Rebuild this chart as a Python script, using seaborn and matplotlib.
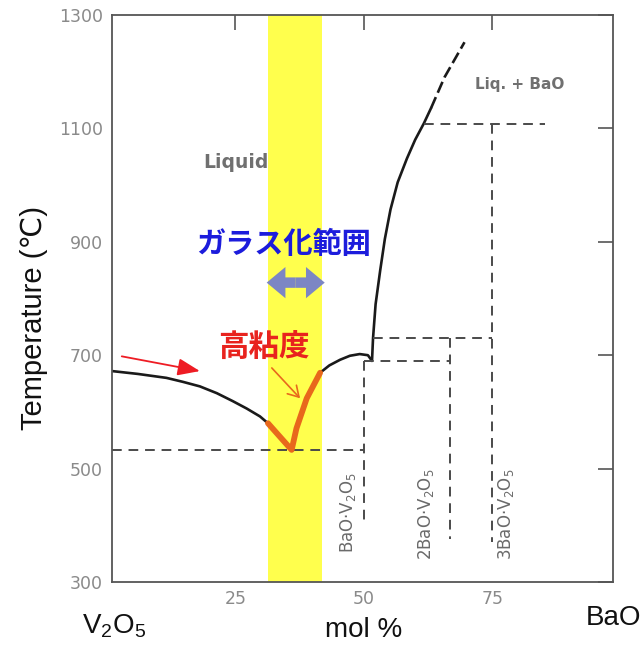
import matplotlib
matplotlib.use("Agg")
import matplotlib.pyplot as plt
import seaborn as sns

# ---------------- data ----------------
# liquidus, V2O5-rich side (black)
liq_left_x = [1.0, 6.0, 11.6, 14.8, 18.1, 21.4, 24.5, 27.2, 29.8, 31.35]
liq_left_t = [672, 667, 660, 653, 645, 633, 619, 606, 592, 580]
# high-viscosity part of the liquidus (orange)
visc_x = [31.35, 33.6, 35.96, 36.9, 38.9, 41.5]
visc_t = [580, 557, 533, 571, 624, 669]
# liquidus around BaO.V2O5 (black)
liq_mid_x = [41.5, 43.3, 45.4, 47.3, 49.2, 50.8, 51.6]
liq_mid_t = [669, 682, 692, 699, 702, 700, 690]
# steep liquidus towards BaO (black, solid)
liq_right_x = [51.6, 51.8, 52.3, 53.2, 54.1, 55.2, 56.6, 58.4, 60.0, 61.7, 63.1]
liq_right_t = [690, 730, 790, 850, 905, 957, 1005, 1047, 1080, 1109, 1136]
# extrapolated liquidus (black, dashed)
liq_ext_x = [63.1, 65.7, 69.6]
liq_ext_t = [1136, 1190, 1252]

# horizontal dashed (invariant) lines
h_t = [532, 690, 730, 1108]
h_x0 = [1.0, 50.0, 51.8, 61.7]
h_x1 = [50.0, 66.7, 75.0, 85.3]
# vertical dashed (compound) lines
v_x = [50.0, 66.7, 75.0]
v_t0 = [690, 730, 1108]
v_t1 = [406, 376, 371]
compound_labels = ["BaO·V$_2$O$_5$", "2BaO·V$_2$O$_5$", "3BaO·V$_2$O$_5$"]
compound_lab_x = [46.9, 62.2, 77.6]
compound_lab_t = [422, 419, 420]

# glass-forming range (yellow band)
glass_x = [31.3, 41.9]

x_ticks = [25, 50, 75]
y_ticks = [300, 500, 700, 900, 1100, 1300]

# ---------------- figure ----------------
sns.set_style("white")
plt.rcParams["mathtext.default"] = "regular"

W, H = 643, 646
fig = plt.figure(figsize=(W / 100, H / 100), dpi=100)
ax = fig.add_axes([112 / W, 1 - 582 / H, (613 - 112) / W, (582 - 15) / H])
ax.set_xlim(1, 98.5)
ax.set_ylim(300, 1300)

ax.axvspan(glass_x[0], glass_x[1], color="#ffff4d", zorder=0, lw=0)

black = "#1a1a1a"
dash_col = "#4a4a4a"
orange = "#e8681c"

def line(x, y, **kw):
    sns.lineplot(x=x, y=y, sort=False, estimator=None, ax=ax, **kw)

line(liq_left_x, liq_left_t, color=black, lw=1.9)
line(liq_mid_x, liq_mid_t, color=black, lw=1.9)
line(liq_right_x, liq_right_t, color=black, lw=1.9)
line(liq_ext_x, liq_ext_t, color=black, lw=1.9, linestyle=(0, (4.5, 1.8)))
line(visc_x, visc_t, color=orange, lw=4.2, solid_capstyle="round",
     solid_joinstyle="round", zorder=4)

for t, a, b in zip(h_t, h_x0, h_x1):
    line([a, b], [t, t], color=dash_col, lw=1.4, linestyle=(0, (5, 3.5)))
for x, a, b in zip(v_x, v_t0, v_t1):
    line([x, x], [a, b], color=dash_col, lw=1.4, linestyle=(0, (5, 3.5)))

for lab, x, t in zip(compound_labels, compound_lab_x, compound_lab_t):
    ax.text(x, t, lab, rotation=90, ha="center", va="center", fontsize=12,
            color="#6a6a6a", family=["DejaVu Sans"])

ax.text(25.1, 1040, "Liquid", ha="center", va="center", fontsize=13.5,
        fontweight="bold", color="#707070")
ax.text(80.4, 1178, "Liq. + BaO", ha="center", va="center", fontsize=11,
        fontweight="bold", color="#707070")

ax.text(34.3, 896, "ガラス化範囲", ha="center", va="center", fontsize=21,
        fontweight="bold", color="#1c1cdc", family=["Noto Sans CJK JP", "DejaVu Sans"])
ax.text(30.6, 713, "高粘度", ha="center", va="center", fontsize=22,
        fontweight="bold", color="#e8231e", family=["Noto Sans CJK JP", "DejaVu Sans"])

# double arrow (glass-forming range)
mid = (31.1 + 42.4) / 2
for end in (31.1, 42.4):
    ax.annotate("", xy=(end, 828), xytext=(mid, 828),
                arrowprops=dict(arrowstyle="simple,head_length=0.45,head_width=0.75,tail_width=0.25",
                                mutation_scale=30, color="#7c86c4", lw=0,
                                shrinkA=0, shrinkB=0))
# red arrow
ax.annotate("", xy=(18.1, 672), xytext=(2.9, 698),
            arrowprops=dict(arrowstyle="-|>,head_length=0.9,head_width=0.35",
                            mutation_scale=15, color="#ee1c24", lw=1.3,
                            shrinkA=0, shrinkB=0))
# orange arrow
ax.annotate("", xy=(37.6, 624), xytext=(32.1, 677.5),
            arrowprops=dict(arrowstyle="->,head_length=0.5,head_width=0.3",
                            mutation_scale=15, color=orange, lw=1.2,
                            shrinkA=0, shrinkB=0))

# axes styling
for s in ax.spines.values():
    s.set_color("#555555")
    s.set_linewidth(1.3)
ax.set_xticks(x_ticks)
ax.set_yticks(y_ticks)
ax.tick_params(direction="in", length=11, width=1.2, color="#555555",
               top=True, right=True, labelsize=12.5, labelcolor="#8a8a8a")
ax.tick_params(axis="y", pad=6.5)
ax.tick_params(axis="x", pad=5.5)
ax.set_xlabel("")
ax.set_ylabel("")

fig.text(34 / W, 1 - 318 / H, "Temperature (℃)", rotation=90, ha="center", va="center",
         fontsize=21, color="#111111", family=["Liberation Sans", "DejaVu Sans"])
fig.text(114 / W, 1 - 626 / H, "V$_2$O$_5$", ha="center", va="center",
         fontsize=20, color="#111111", family=["Liberation Sans", "DejaVu Sans"])
fig.text(364 / W, 1 - 630 / H, "mol %", ha="center", va="center",
         fontsize=20, color="#111111", family=["Liberation Sans", "DejaVu Sans"])
fig.text(613 / W, 1 - 618 / H, "BaO", ha="center", va="center",
         fontsize=20, color="#111111", family=["Liberation Sans", "DejaVu Sans"])

fig.savefig("out.png", dpi=100, facecolor="white")
